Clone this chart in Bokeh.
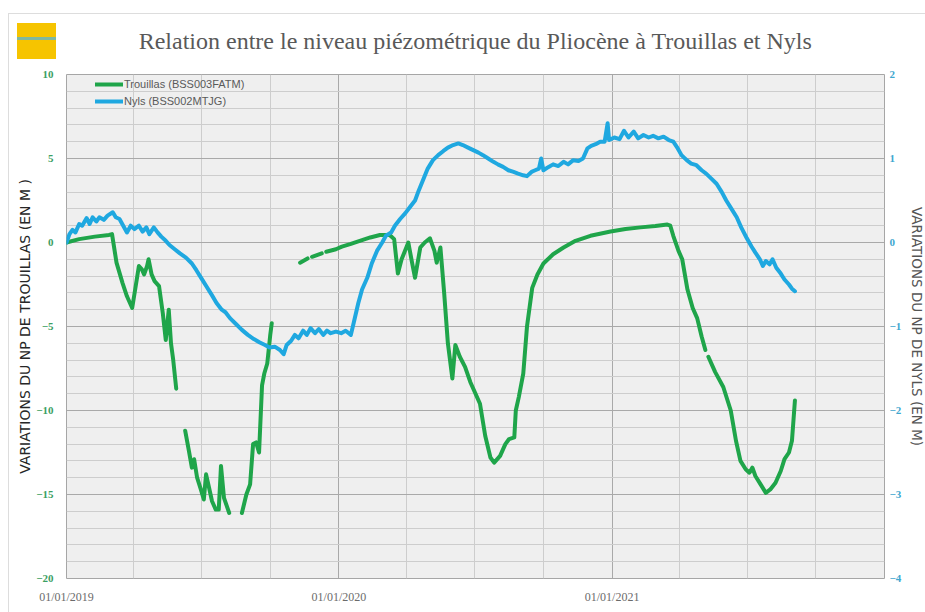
import numpy as np
import pandas as pd
from bokeh.plotting import figure
from bokeh.models import (Range1d, LinearAxis, FixedTicker, Legend, LegendItem,
                          ColumnDataSource, DatetimeTickFormatter, InlineStyleSheet)
from bokeh.embed import file_html
from bokeh.resources import INLINE

# ---------------- data ----------------
title_text = "Relation entre le niveau piézométrique du Pliocène à Trouillas et Nyls"
left_label = "VARIATIONS DU NP DE TROUILLAS (EN M )"
right_label = "VARIATIONS DU NP DE NYLS (EN M)"
trouillas_name = "Trouillas (BSS003FATM)"
nyls_name = "Nyls (BSS002MTJG)"

x_tick_dates = ["2019-01-01", "2020-01-01", "2021-01-01"]
x_minor_dates = ["2019-04-01", "2019-07-01", "2019-10-01",
                 "2020-04-01", "2020-07-01", "2020-10-01",
                 "2021-04-01", "2021-07-01", "2021-10-01"]
left_ticks = [-20, -15, -10, -5, 0, 5, 10]
right_ticks = [-4, -3, -2, -1, 0, 1, 2]

trouillas_dates = [
    "2019-01-01", "2019-01-18", "2019-02-08", "2019-02-27", "2019-03-03", "2019-03-09",
    "2019-03-17", "2019-03-23", "2019-03-30", "2019-04-03", "2019-04-08", "2019-04-12",
    "2019-04-15", "2019-04-19", "2019-04-21", "2019-04-25", "2019-04-29", "2019-05-05",
    "2019-05-10", "2019-05-14", "2019-05-18", "2019-05-21", "2019-05-24", "2019-05-28",
    "2019-06-03",
    "2019-06-09", "2019-06-14", "2019-06-18", "2019-06-21", "2019-06-25", "2019-06-30",
    "2019-07-04", "2019-07-07", "2019-07-11", "2019-07-15", "2019-07-20", "2019-07-24",
    "2019-07-27", "2019-07-31", "2019-08-07",
    "2019-08-15",
    "2019-08-24", "2019-08-30", "2019-09-04", "2019-09-08", "2019-09-12", "2019-09-16",
    "2019-09-20", "2019-09-23", "2019-09-27", "2019-10-01", "2019-10-03",
    "2019-10-20",
    "2019-11-10", "2019-11-20",
    "2019-11-23",
    "2019-11-26", "2019-12-09",
    "2019-12-12",
    "2019-12-15", "2019-12-28", "2020-01-05", "2020-01-16", "2020-01-29", "2020-02-12",
    "2020-02-25", "2020-03-09", "2020-03-15", "2020-03-20", "2020-03-25", "2020-04-03",
    "2020-04-08", "2020-04-12", "2020-04-19", "2020-04-25", "2020-05-02", "2020-05-08",
    "2020-05-11", "2020-05-16", "2020-05-21", "2020-05-26", "2020-06-01", "2020-06-05",
    "2020-06-11", "2020-06-18", "2020-06-25", "2020-07-01", "2020-07-08", "2020-07-15",
    "2020-07-22", "2020-07-27", "2020-08-04", "2020-08-11", "2020-08-16", "2020-08-23",
    "2020-08-25", "2020-08-29", "2020-09-04", "2020-09-09", "2020-09-16", "2020-09-23",
    "2020-10-01", "2020-10-14", "2020-10-28", "2020-11-13", "2020-12-03", "2020-12-30",
    "2021-01-19", "2021-02-08", "2021-02-28", "2021-03-16", "2021-03-20", "2021-03-24",
    "2021-03-31", "2021-04-05", "2021-04-12", "2021-04-19", "2021-04-25", "2021-05-01",
    "2021-05-06",
    "2021-05-08",
    "2021-05-10", "2021-05-19", "2021-05-30", "2021-06-09", "2021-06-16", "2021-06-22",
    "2021-06-29", "2021-07-04", "2021-07-08", "2021-07-12", "2021-07-19", "2021-07-26",
    "2021-08-01", "2021-08-08", "2021-08-15", "2021-08-20", "2021-08-26", "2021-08-30",
    "2021-09-01", "2021-09-03",
]
trouillas_values = [
    0.0, 0.2, 0.35, 0.45, 0.5, -1.2,
    -2.4, -3.2, -3.9, -2.8, -1.4, -1.6,
    -1.9, -1.4, -1.0, -1.9, -2.3, -2.6,
    -4.2, -5.8, -4.0, -6.0, -7.0, -8.7,
    None,
    -11.2, -12.4, -13.4, -12.9, -14.0, -14.7,
    -15.3, -13.8, -14.6, -15.4, -15.9, -15.9,
    -13.3, -15.2, -16.1,
    None,
    -16.1, -15.0, -14.4, -12.0, -11.9, -12.5,
    -8.5, -7.8, -7.2, -5.5, -4.8,
    None,
    -1.2, -0.95,
    None,
    -0.85, -0.65,
    None,
    -0.55, -0.4, -0.25, -0.1, 0.1, 0.3,
    0.45, 0.45, 0.2, -1.85, -1.0, 0.0,
    -1.2, -2.1, -0.3, 0.0, 0.25, -0.5,
    -1.2, -0.3, -3.0, -6.0, -8.1, -6.1,
    -6.8, -7.4, -8.3, -8.9, -9.6, -11.5,
    -12.8, -13.1, -12.7, -12.0, -11.7, -11.6,
    -10.0, -9.2, -7.8, -5.0, -2.7, -1.9,
    -1.25, -0.7, -0.3, 0.1, 0.4, 0.65,
    0.8, 0.9, 0.98, 1.07, 1.0, 0.4,
    -0.5, -1.0, -2.8, -3.9, -4.5, -5.6,
    -6.4,
    None,
    -6.8, -7.7, -8.6, -10.0, -11.8, -13.0,
    -13.5, -13.7, -13.4, -13.9, -14.4, -14.9,
    -14.7, -14.3, -13.6, -12.9, -12.5, -11.8,
    -10.6, -9.4,
]

nyls_dates = [
    "2019-01-01", "2019-01-05", "2019-01-09", "2019-01-13", "2019-01-18", "2019-01-22",
    "2019-01-28", "2019-02-01", "2019-02-05", "2019-02-10", "2019-02-14", "2019-02-20",
    "2019-02-25", "2019-03-04", "2019-03-08", "2019-03-13", "2019-03-18", "2019-03-23",
    "2019-03-28", "2019-04-02", "2019-04-08", "2019-04-13", "2019-04-18", "2019-04-22",
    "2019-04-28", "2019-05-03", "2019-05-08", "2019-05-14", "2019-05-19", "2019-05-26",
    "2019-06-02", "2019-06-10", "2019-06-18", "2019-06-24", "2019-07-01", "2019-07-08",
    "2019-07-15", "2019-07-21", "2019-07-28", "2019-08-02", "2019-08-08", "2019-08-16",
    "2019-08-24", "2019-09-01", "2019-09-09", "2019-09-17", "2019-09-24", "2019-09-30",
    "2019-10-07", "2019-10-14", "2019-10-19", "2019-10-23", "2019-10-29", "2019-11-03",
    "2019-11-08", "2019-11-14", "2019-11-19", "2019-11-24", "2019-11-30", "2019-12-05",
    "2019-12-11", "2019-12-16", "2019-12-21", "2019-12-28", "2020-01-04", "2020-01-10",
    "2020-01-17", "2020-01-21", "2020-01-27", "2020-02-01", "2020-02-08", "2020-02-14",
    "2020-02-21", "2020-02-28", "2020-03-04", "2020-03-11", "2020-03-16", "2020-03-23",
    "2020-03-30", "2020-04-05", "2020-04-12", "2020-04-17", "2020-04-23", "2020-04-29",
    "2020-05-06", "2020-05-13", "2020-05-20", "2020-05-26", "2020-06-02", "2020-06-09",
    "2020-06-15", "2020-06-22", "2020-06-29", "2020-07-06", "2020-07-12", "2020-07-19",
    "2020-07-26", "2020-08-01", "2020-08-08", "2020-08-15", "2020-08-22", "2020-08-28",
    "2020-09-04", "2020-09-09", "2020-09-15", "2020-09-20", "2020-09-25", "2020-09-28",
    "2020-10-01", "2020-10-08", "2020-10-14", "2020-10-21", "2020-10-28", "2020-11-03",
    "2020-11-10", "2020-11-17", "2020-11-23", "2020-11-29", "2020-12-04", "2020-12-10",
    "2020-12-16", "2020-12-22", "2020-12-26", "2020-12-28", "2021-01-04", "2021-01-11",
    "2021-01-17", "2021-01-23", "2021-01-30", "2021-02-05", "2021-02-12", "2021-02-19",
    "2021-02-25", "2021-03-04", "2021-03-11", "2021-03-18", "2021-03-24", "2021-03-30",
    "2021-04-04", "2021-04-11", "2021-04-17", "2021-04-24", "2021-05-01", "2021-05-07",
    "2021-05-14", "2021-05-21", "2021-05-28", "2021-06-03", "2021-06-10", "2021-06-17",
    "2021-06-23", "2021-06-30", "2021-07-07", "2021-07-12", "2021-07-18", "2021-07-22",
    "2021-07-26", "2021-07-31", "2021-08-04", "2021-08-09", "2021-08-15", "2021-08-20",
    "2021-08-26", "2021-08-30", "2021-09-03",
]
nyls_values = [
    0.0, 0.1, 0.15, 0.12, 0.22, 0.2,
    0.29, 0.22, 0.3, 0.25, 0.3, 0.27,
    0.32, 0.36, 0.3, 0.28, 0.2, 0.12,
    0.2, 0.16, 0.2, 0.13, 0.18, 0.1,
    0.18, 0.12, 0.07, 0.02, -0.03, -0.08,
    -0.13, -0.18, -0.25, -0.33, -0.43, -0.53,
    -0.63, -0.72, -0.8, -0.83, -0.9, -0.97,
    -1.04, -1.1, -1.15, -1.19, -1.22, -1.25,
    -1.24, -1.28, -1.33, -1.22, -1.17, -1.1,
    -1.14, -1.05, -1.1, -1.02, -1.08, -1.03,
    -1.1, -1.05, -1.08, -1.06, -1.08, -1.05,
    -1.1, -0.95, -0.72, -0.56, -0.42, -0.25,
    -0.1, 0.0, 0.08, 0.12, 0.2, 0.28,
    0.35, 0.42, 0.5, 0.62, 0.75, 0.88,
    0.98, 1.04, 1.09, 1.13, 1.16, 1.18,
    1.16, 1.13, 1.1, 1.07, 1.04, 1.0,
    0.96, 0.93, 0.9, 0.86, 0.84, 0.82,
    0.8, 0.79, 0.84, 0.86, 0.88, 1.0,
    0.86, 0.9, 0.93, 0.91, 0.96, 0.93,
    0.98, 0.97, 1.0, 1.12, 1.15, 1.17,
    1.2, 1.2, 1.42, 1.22, 1.25, 1.23,
    1.33, 1.25, 1.32, 1.24, 1.28, 1.25,
    1.27, 1.24, 1.26, 1.22, 1.2, 1.12,
    1.04, 0.98, 0.94, 0.92, 0.86, 0.82,
    0.76, 0.7, 0.6, 0.5, 0.4, 0.3,
    0.18, 0.06, -0.05, -0.12, -0.2, -0.28,
    -0.22, -0.26, -0.2, -0.3, -0.37, -0.44,
    -0.5, -0.55, -0.58,
]

# ---------------- style ----------------
GREEN = "#1fa54a"
BLUE = "#1fa8e0"


def to_ms(d):
    return pd.Timestamp(d).value / 1e6


t_src = ColumnDataSource(dict(
    x=pd.to_datetime(trouillas_dates),
    y=np.array([np.nan if v is None else v for v in trouillas_values], dtype=float)))
n_src = ColumnDataSource(dict(
    x=pd.to_datetime(nyls_dates),
    y=np.array(nyls_values, dtype=float)))

p = figure(frame_width=818, frame_height=504, output_backend="svg", toolbar_location=None,
           x_axis_type="datetime",
           x_range=Range1d(pd.Timestamp("2019-01-01"), pd.Timestamp("2022-01-01")),
           y_range=Range1d(-20, 10),
           min_border_left=66, min_border_right=41, min_border_top=74, min_border_bottom=34)

p.background_fill_color = "#efefef"
p.border_fill_color = "white"
p.outline_line_color = "#a6a6a6"
p.outline_line_width = 1

p.title.text = title_text
p.title.align = "center"
p.title.offset = 11
p.title.vertical_align = "bottom"
p.title.text_font = "Liberation Serif"
p.title.text_font_size = "24px"
p.title.text_font_style = "normal"
p.title.text_color = "#595959"
p.title.standoff = 42

p.extra_y_ranges = {"nyls": Range1d(-4, 2)}

# x axis
xa = p.xaxis[0]
xa.ticker = FixedTicker(ticks=[to_ms(d) for d in x_tick_dates],
                        minor_ticks=[to_ms(d) for d in x_minor_dates])
fmt = "%d/%m/%Y"
xa.formatter = DatetimeTickFormatter(milliseconds=fmt, seconds=fmt, minsec=fmt, minutes=fmt,
                                     hourmin=fmt, hours=fmt, days=fmt, months=fmt, years=fmt,
                                     context=None)
xa.major_label_text_font = "Liberation Serif"
xa.major_label_text_font_size = "12px"
xa.major_label_text_color = "#6b6b6b"
xa.major_label_standoff = 11

# left axis
ya = p.yaxis[0]
ya.ticker = FixedTicker(ticks=left_ticks,
                        minor_ticks=[v for v in range(-20, 11) if v % 5 != 0])
ya.axis_label = left_label
ya.axis_label_text_font = "DejaVu Sans"
ya.axis_label_text_font_size = "14px"
ya.axis_label_text_font_style = "normal"
ya.axis_label_text_color = "#262626"
ya.axis_label_standoff = 0
ya.major_label_text_font = "Liberation Serif"
ya.major_label_text_font_size = "11px"
ya.major_label_text_font_style = "bold"
ya.major_label_text_color = "#3c9f63"
ya.major_label_standoff = 13
ya.major_label_orientation = "horizontal"

# right axis
ra = LinearAxis(y_range_name="nyls", ticker=FixedTicker(ticks=right_ticks))
ra.axis_label = right_label
ra.axis_label_text_font = "DejaVu Sans"
ra.axis_label_text_font_size = "13.5px"
ra.axis_label_text_font_style = "normal"
ra.axis_label_text_color = "#555555"
ra.axis_label_standoff = 5
ra.major_label_text_font = "Liberation Serif"
ra.major_label_text_font_size = "11px"
ra.major_label_text_font_style = "bold"
ra.major_label_text_color = "#3fa7cf"
ra.major_label_standoff = 5
p.add_layout(ra, "right")

for ax in [xa, ya, ra]:
    ax.axis_line_color = None
    ax.major_tick_line_color = None
    ax.minor_tick_line_color = None
    ax.major_tick_in = 0
    ax.major_tick_out = 0
    ax.minor_tick_in = 0
    ax.minor_tick_out = 0

# grids
p.xgrid.grid_line_color = "#a9a9a9"
p.xgrid.minor_grid_line_color = "#cdcdcd"
p.ygrid.grid_line_color = "#a9a9a9"
p.ygrid.minor_grid_line_color = "#cdcdcd"

# lines
r_t = p.line("x", "y", source=t_src, line_color=GREEN, line_width=4,
             line_join="round", line_cap="round")
r_n = p.line("x", "y", source=n_src, line_color=BLUE, line_width=4,
             line_join="round", line_cap="round", y_range_name="nyls")

legend = Legend(items=[LegendItem(label=trouillas_name, renderers=[r_t]),
                       LegendItem(label=nyls_name, renderers=[r_n])],
                location=(29, 470))
legend.background_fill_alpha = 0
legend.border_line_color = None
legend.label_text_font = "Liberation Sans"
legend.label_text_font_size = "11px"
legend.label_text_color = "#5a5a5a"
legend.glyph_width = 28
legend.glyph_height = 14
legend.label_height = 14
legend.label_standoff = 1
legend.spacing = 3
legend.padding = 0
legend.margin = 0
p.add_layout(legend)

# decoration: yellow logo block and the thin frame of the original picture
p.stylesheets = [InlineStyleSheet(css="""
:host::after {
  content: "";
  position: absolute;
  left: 17px; top: 23px;
  width: 39px; height: 36px;
  background: linear-gradient(to bottom, #f6c400 0%, #f6c400 38%, #7fb8a0 38%,
              #7fb8a0 46%, #f6c400 46%, #f6c400 100%);
  z-index: 50;
}
:host::before {
  content: "";
  position: absolute;
  left: 8px; top: 13px; right: 0px; bottom: 0px;
  border-left: 1px solid #dddddd;
  border-top: 1px solid #dddddd;
  z-index: 50;
  pointer-events: none;
}
""")]

open("out.html", "w").write(file_html(p, INLINE))
